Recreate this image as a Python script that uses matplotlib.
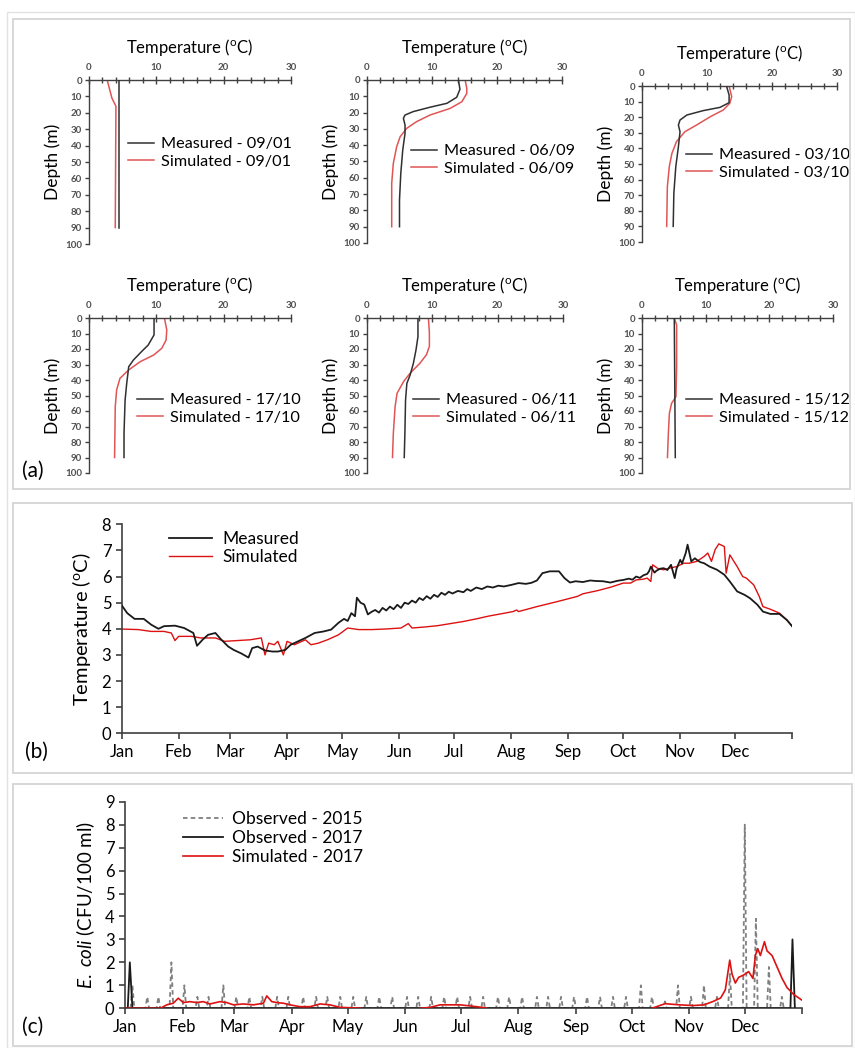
import numpy as np
import matplotlib
matplotlib.use("Agg")
import matplotlib.pyplot as plt
from matplotlib.patches import Rectangle

plt.rcParams['font.family'] = ['Lato', 'DejaVu Sans']
plt.rcParams['mathtext.fontset'] = 'custom'
plt.rcParams['mathtext.rm'] = 'Lato'
plt.rcParams['mathtext.it'] = 'Lato:italic'

# ------------------------------------------
# Data
# ------------------------------------------

# (a) temperature profiles: depth (m) / temperature (degC)
p1_meas_depth = [0, 90]
p1_meas_temp = [4.5, 4.5]
p1_sim_depth = [0, 11, 16, 90]
p1_sim_temp = [2.7, 3.4, 4.0, 3.9]

p2_meas_depth = [0, 5.7, 10.6, 14.3, 16.7, 19.4, 21.5, 23.5, 27.6, 32.7, 42.9, 57.2, 73.6, 90]
p2_meas_temp = [14.06, 14.3, 13.8, 12.3, 9.7, 7.1, 5.85, 5.6, 5.85, 5.85, 5.5, 5.2, 5.0, 5.0]
p2_sim_depth = [0, 5.1, 8.2, 13.3, 17.4, 21.5, 25.6, 29.7, 34.8, 41, 51.1, 63.4, 90]
p2_sim_temp = [15.1, 15.35, 15.35, 14.6, 12.8, 9.7, 7.6, 6.1, 5.1, 4.56, 4.05, 3.8, 3.8]

p3_meas_depth = [0, 5.8, 10.7, 13.7, 15.8, 18.6, 21.8, 25, 29.3, 38.9, 51.7, 68.8, 90]
p3_meas_temp = [13.0, 13.4, 13.4, 12.0, 9.4, 6.9, 5.85, 5.6, 5.85, 5.6, 5.2, 4.9, 4.8]
p3_sim_depth = [0, 6.8, 11.1, 15.4, 19.7, 25, 29.3, 35.7, 43.2, 51.7, 64.5, 90]
p3_sim_temp = [13.4, 13.8, 13.5, 12.5, 10.5, 8.4, 6.6, 5.3, 4.6, 4.2, 3.9, 3.8]

p4_meas_depth = [0, 10.9, 17.4, 21.7, 27.1, 31.4, 42.2, 53, 74.4, 90]
p4_meas_temp = [9.66, 9.66, 8.8, 7.8, 6.6, 5.9, 5.6, 5.36, 5.2, 5.2]
p4_sim_depth = [0, 7.7, 14.2, 19.6, 23.9, 28.2, 33.5, 38.9, 46.5, 57.2, 90]
p4_sim_temp = [11.2, 11.55, 11.45, 10.8, 9.6, 7.6, 5.9, 4.6, 4.1, 3.9, 3.8]

p5_meas_depth = [0, 12, 20.6, 29.2, 36.8, 42.2, 53, 74.4, 90]
p5_meas_temp = [7.8, 7.8, 7.5, 7.1, 6.6, 6.1, 5.9, 5.8, 5.7]
p5_sim_depth = [0, 9.7, 18.3, 23.7, 29.2, 35.6, 41, 48.6, 57.2, 74.4, 90]
p5_sim_temp = [9.4, 9.55, 9.55, 9.1, 8.1, 6.6, 5.6, 4.6, 4.3, 4.03, 3.9]

p6_meas_depth = [0, 90]
p6_meas_temp = [5.07, 5.23]
p6_sim_depth = [0, 4.5, 31.4, 50.8, 55, 61.5, 74.4, 90]
p6_sim_temp = [5.07, 5.44, 5.44, 5.33, 4.65, 4.3, 4.14, 4.0]

profile_dates = ['09/01', '06/09', '03/10', '17/10', '06/11', '15/12']

# month ticks (day of year)
month_days = [0, 31, 59, 90, 120, 151, 181, 212, 243, 273, 304, 334, 365]
month_labels = ['Jan', 'Feb', 'Mar', 'Apr', 'May', 'Jun', 'Jul', 'Aug', 'Sep', 'Oct', 'Nov', 'Dec', '']

# (b) water temperature
meas_b_days = [0, 3, 7, 12, 16, 20, 23, 29, 34, 39, 41, 44, 47, 51, 54, 58, 61, 65, 69, 71,
               74, 78, 82, 85, 89, 92, 96, 100, 105, 110, 114, 118, 121, 123, 125, 127, 128, 130,
               132, 134, 136, 138, 140, 142, 144, 146, 148, 150, 152, 154, 156, 158, 160, 162,
               164, 166, 168, 170, 172, 174, 176, 178, 180, 183, 186, 188, 190, 193, 196, 199,
               202, 205, 208, 212, 216, 220, 223, 226, 229, 233, 238, 241, 244, 247, 251, 255,
               258, 262, 266, 270, 273, 276, 278, 280, 282, 284, 286, 287, 288, 290, 291, 293,
               295, 297, 299, 301, 302, 304, 305, 307, 308, 310, 312, 313, 315, 317, 320, 324,
               328, 331, 335, 339, 342, 346, 349, 353, 358, 362, 365]
meas_b_vals = [4.9, 4.6, 4.38, 4.38, 4.16, 4.0, 4.1, 4.12, 4.03, 3.84, 3.35, 3.58, 3.77, 3.84,
               3.6, 3.32, 3.19, 3.06, 2.9, 3.26, 3.32, 3.17, 3.13, 3.13, 3.19, 3.39, 3.52, 3.65,
               3.84, 3.9, 3.97, 4.23, 4.38, 4.3, 4.6, 4.48, 5.19, 5.0, 4.93, 4.55, 4.65, 4.72,
               4.62, 4.8, 4.7, 4.85, 4.75, 4.92, 4.8, 5.0, 4.95, 5.08, 5.0, 5.18, 5.1, 5.25, 5.15,
               5.3, 5.22, 5.38, 5.3, 5.42, 5.35, 5.45, 5.4, 5.52, 5.45, 5.58, 5.52, 5.62, 5.58,
               5.65, 5.62, 5.68, 5.75, 5.72, 5.76, 5.85, 6.13, 6.2, 6.2, 5.94, 5.77, 5.82, 5.79,
               5.85, 5.83, 5.82, 5.77, 5.84, 5.87, 5.92, 5.88, 6.0, 5.95, 6.05, 6.1, 6.2, 6.38,
               6.15, 6.22, 6.3, 6.32, 6.25, 6.45, 5.94, 6.3, 6.64, 6.5, 6.9, 7.22, 6.58, 6.7,
               6.64, 6.55, 6.51, 6.38, 6.26, 6.07, 5.81, 5.43, 5.3, 5.17, 4.92, 4.66, 4.57, 4.57,
               4.34, 4.09]
sim_b_days = [0, 9, 16, 23, 27, 29, 31, 38, 43, 51, 56, 63, 70, 76, 78, 80, 83, 85, 88, 90, 94,
              100, 103, 107, 112, 118, 123, 129, 136, 143, 152, 156, 158, 165, 172, 179, 186,
              193, 200, 207, 213, 215, 216, 226, 237, 248, 251, 259, 266, 273, 277, 280, 284,
              286, 288, 289, 292, 295, 298, 302, 306, 309, 313, 317, 319, 321, 323, 325, 328,
              329, 331, 335, 338, 340, 344, 347, 349, 353, 358, 362, 365]
sim_b_vals = [3.99, 3.97, 3.9, 3.9, 3.84, 3.55, 3.71, 3.71, 3.65, 3.65, 3.52, 3.55, 3.58, 3.65,
              3.0, 3.45, 3.39, 3.52, 3.0, 3.52, 3.39, 3.58, 3.39, 3.45, 3.58, 3.77, 4.03, 3.97,
              3.97, 3.99, 4.03, 4.2, 4.03, 4.07, 4.12, 4.2, 4.28, 4.38, 4.49, 4.58, 4.66, 4.72,
              4.66, 4.85, 5.04, 5.24, 5.34, 5.46, 5.59, 5.75, 5.75, 5.87, 5.9, 5.94, 5.81, 6.45,
              6.3, 6.26, 6.32, 6.38, 6.51, 6.51, 6.58, 6.77, 6.9, 6.58, 7.03, 7.25, 7.15, 6.13,
              6.83, 6.38, 6.0, 5.94, 5.68, 5.24, 4.85, 4.75, 4.6, 4.34, 4.09]

# (c) E. coli
obs15_days = [4, 12, 18, 25, 32, 39, 45, 53, 60, 67, 74, 82, 88, 96, 103, 109, 116, 123, 130,
              137, 144, 152, 158, 165, 172, 179, 186, 193, 201, 207, 214, 222, 228, 235, 242,
              249, 256, 263, 270, 278, 284, 291, 298, 305, 312, 319, 326, 334, 340, 347, 354]
obs15_vals = [1.0, 0.5, 0.5, 2.0, 1.0, 0.5, 0.5, 1.0, 0.5, 0.5, 0.5, 0.5, 0.5, 0.5, 0.5, 0.5,
              0.5, 0.5, 0.5, 0.5, 0.5, 0.5, 0.5, 0.5, 0.5, 0.5, 0.5, 0.5, 0.5, 0.5, 0.5, 0.5,
              0.5, 0.5, 0.5, 0.5, 0.5, 0.5, 0.5, 1.0, 0.5, 0.3, 1.0, 0.5, 1.0, 0.5, 1.5, 8.0,
              3.9, 1.8, 0.5]
obs17_days = [0, 1.5, 2.6, 4, 358.6, 359.7, 361]
obs17_vals = [0, 0, 2.0, 0, 0, 3.0, 0]
sim17_days = [0, 19, 22.5, 26, 28.7, 31.4, 35, 38.6, 42.2, 45.8, 51.2, 54.8, 58.4, 63.8, 69.2,
              74.6, 76.4, 79.1, 81.8, 85.4, 89, 94.3, 99.7, 105.1, 110.5, 115.9, 126.7,
              159, 164.4, 169.8, 180.6, 189.6, 195,
              284, 291, 299, 306, 312, 317, 321, 323.5, 325.9, 327.1, 328.9, 330.7, 333.4,
              336.1, 338.4, 339.7, 341, 342.4, 344.6, 346, 348.7, 351.4, 354.1, 356.8, 360.4,
              364.9]
sim17_vals = [0, 0, 0.15, 0.22, 0.44, 0.25, 0.29, 0.25, 0.29, 0.19, 0.29, 0.25, 0.15, 0.19,
              0.15, 0.22, 0.54, 0.29, 0.25, 0.22, 0.15, 0.07, 0.07, 0.19, 0.15, 0.04, 0.01,
              0, 0.04, 0.15, 0.15, 0.07, 0.01,
              0, 0.2, 0.15, 0.12, 0.15, 0.3, 0.45, 0.8, 2.1, 1.5, 1.1, 1.35, 1.45, 1.6, 1.3,
              2.3, 2.6, 2.3, 2.9, 2.5, 2.3, 1.8, 1.3, 0.9, 0.6, 0.35]
sim17_gaps = [126.7, 195]  # segments end here (no simulated value shown after)

# ------------------------------------------
# Figure
# ------------------------------------------

W, H = 855, 1048
fig = plt.figure(figsize=(W / 100, H / 100), dpi=100)


def fbox(x0, y0, x1, y1):
    # pixel box (top-left origin) -> figure fraction rect
    return [x0 / W, 1 - y1 / H, (x1 - x0) / W, (y1 - y0) / H]


# outer frame + panel frames
fig.patches.append(Rectangle((7 / W, 0), (W - 7) / W, 1 - 12 / H, transform=fig.transFigure,
                             fill=False, edgecolor='#e2e2e2', lw=1.0))
for (x0, y0, x1, y1) in [(13, 19, 850, 489), (13, 503, 852, 773), (13, 784, 852, 1046)]:
    fig.patches.append(Rectangle((x0 / W, 1 - y1 / H), (x1 - x0) / W, (y1 - y0) / H,
                                 transform=fig.transFigure, fill=False,
                                 edgecolor='#d4d4d4', lw=1.3))

axis_col = '#404040'
meas_col = '#303030'
sim_col = '#e05555'

profiles = [
    (p1_meas_depth, p1_meas_temp, p1_sim_depth, p1_sim_temp, (89, 80, 291, 244), (128, 153)),
    (p2_meas_depth, p2_meas_temp, p2_sim_depth, p2_sim_temp, (367, 80, 562, 243), (411, 160)),
    (p3_meas_depth, p3_meas_temp, p3_sim_depth, p3_sim_temp, (642, 86, 837, 242), (686, 164)),
    (p4_meas_depth, p4_meas_temp, p4_sim_depth, p4_sim_temp, (89, 318, 291, 473), (137, 409)),
    (p5_meas_depth, p5_meas_temp, p5_sim_depth, p5_sim_temp, (367, 318, 563, 473), (413, 409)),
    (p6_meas_depth, p6_meas_temp, p6_sim_depth, p6_sim_temp, (642, 318, 833, 473), (686, 409)),
]

for i, (md, mt, sd, st, box, leg) in enumerate(profiles):
    ax = fig.add_axes(fbox(*box))
    ax.plot(mt, md, color=meas_col, lw=1.1, zorder=3, label=f'Measured - {profile_dates[i]}')
    ax.plot(st, sd, color=sim_col, lw=1.1, zorder=2, label=f'Simulated - {profile_dates[i]}')
    ax.set_xlim(0, 30)
    ax.set_ylim(100, 0)
    ax.xaxis.tick_top()
    ax.xaxis.set_label_position('top')
    ax.set_xticks([0, 10, 20, 30])
    ax.set_xticks(np.arange(0, 31, 2), minor=True)
    ax.set_yticks(np.arange(0, 101, 10))
    for s in ['right', 'bottom']:
        ax.spines[s].set_visible(False)
    for s in ['left', 'top']:
        ax.spines[s].set_color(axis_col)
        ax.spines[s].set_linewidth(1.0)
    ax.tick_params(axis='x', which='major', direction='inout', length=6, width=1.0,
                   colors=axis_col, labelsize=7, pad=3)
    ax.tick_params(axis='x', which='minor', direction='inout', length=4, width=1.0,
                   colors=axis_col)
    ax.tick_params(axis='y', direction='out', length=3, width=1.0, colors=axis_col,
                   labelsize=7, pad=2)
    for lab in ax.get_xticklabels() + ax.get_yticklabels():
        lab.set_fontweight('bold')
        lab.set_color('#505050')
    ax.set_xlabel('Temperature ($^{\\mathrm{o}}$C)', fontsize=12, labelpad=7)
    ax.set_ylabel('Depth (m)', fontsize=12.5, labelpad=3)
    lx, ly = leg
    ax.legend(loc='center left', bbox_to_anchor=(lx / W, 1 - ly / H),
              bbox_transform=fig.transFigure, frameon=False, fontsize=11.7,
              borderpad=0, borderaxespad=0, handlelength=1.6, handletextpad=0.4,
              labelspacing=0.2)

fig.text(22 / W, 1 - 471 / H, '(a)', fontsize=15, va='center', ha='left')

# ---------------- panel (b) ----------------
axb = fig.add_axes(fbox(121.7, 524.3, 792.3, 733.3))
axb.plot(meas_b_days, meas_b_vals, color='#1a1a1a', lw=1.3, label='Measured', zorder=3)
axb.plot(sim_b_days, sim_b_vals, color='#dd1111', lw=1.0, label='Simulated', zorder=2)
axb.set_xlim(0, 365)
axb.set_ylim(0, 8)
axb.set_xticks(month_days)
axb.set_xticklabels(month_labels)
axb.set_yticks(range(0, 9))
for s in ['right', 'top']:
    axb.spines[s].set_visible(False)
for s in ['left', 'bottom']:
    axb.spines[s].set_color(axis_col)
    axb.spines[s].set_linewidth(1.2)
axb.tick_params(direction='out', length=4, width=1.2, colors=axis_col, labelsize=12,
                labelcolor='black')
axb.set_ylabel('Temperature ($^{\\mathrm{o}}$C)', fontsize=14.5, labelpad=6)
axb.legend(loc='center left', bbox_to_anchor=(169 / W, 1 - 548 / H),
           bbox_transform=fig.transFigure, frameon=False, fontsize=12.5,
           borderpad=0, borderaxespad=0, handlelength=2.5, handletextpad=0.55,
           labelspacing=0.15)
fig.text(25 / W, 1 - 752 / H, '(b)', fontsize=15, va='center', ha='left')

# ---------------- panel (c) ----------------
axc = fig.add_axes(fbox(125, 801.7, 802.3, 1008.3))

# weekly 2015 samples drawn as narrow spikes from zero
o15_x, o15_y = [], []
for d, v in zip(obs15_days, obs15_vals):
    o15_x += [d - 1, d, d + 1]
    o15_y += [0, v, 0]
axc.plot(o15_x, o15_y, color='#808080', lw=1.3, ls=(0, (2.5, 1.8)), label='Observed - 2015',
         zorder=2)
axc.plot(obs17_days, obs17_vals, color='#1a1a1a', lw=1.3, label='Observed - 2017', zorder=3)

s_x = np.array(sim17_days, dtype=float)
s_y = np.array(sim17_vals, dtype=float)
cuts = [0] + [int(np.where(s_x == g)[0][0]) + 1 for g in sim17_gaps] + [len(s_x)]
for k in range(len(cuts) - 1):
    a, b = cuts[k], cuts[k + 1]
    axc.plot(s_x[a:b], s_y[a:b], color='#dd1111', lw=1.2, zorder=4,
             label='Simulated - 2017' if k == 0 else None)

axc.set_xlim(0, 365)
axc.set_ylim(0, 9)
axc.set_xticks(month_days)
axc.set_xticklabels(month_labels)
axc.set_yticks(range(0, 10))
for s in ['right', 'top']:
    axc.spines[s].set_visible(False)
for s in ['left', 'bottom']:
    axc.spines[s].set_color(axis_col)
    axc.spines[s].set_linewidth(1.2)
axc.tick_params(direction='out', length=4, width=1.2, colors=axis_col, labelsize=12,
                labelcolor='black')
axc.set_ylabel('$\\mathit{E.\\ coli}$ (CFU/100 ml)', fontsize=13.5, labelpad=6)
axc.legend(loc='center left', bbox_to_anchor=(183 / W, 1 - 838 / H),
           bbox_transform=fig.transFigure, frameon=False, fontsize=12.5,
           borderpad=0, borderaxespad=0, handlelength=2.3, handletextpad=0.55,
           labelspacing=0.15)
fig.text(22 / W, 1 - 1027 / H, '(c)', fontsize=15, va='center', ha='left')

fig.savefig('out.png', dpi=100)
